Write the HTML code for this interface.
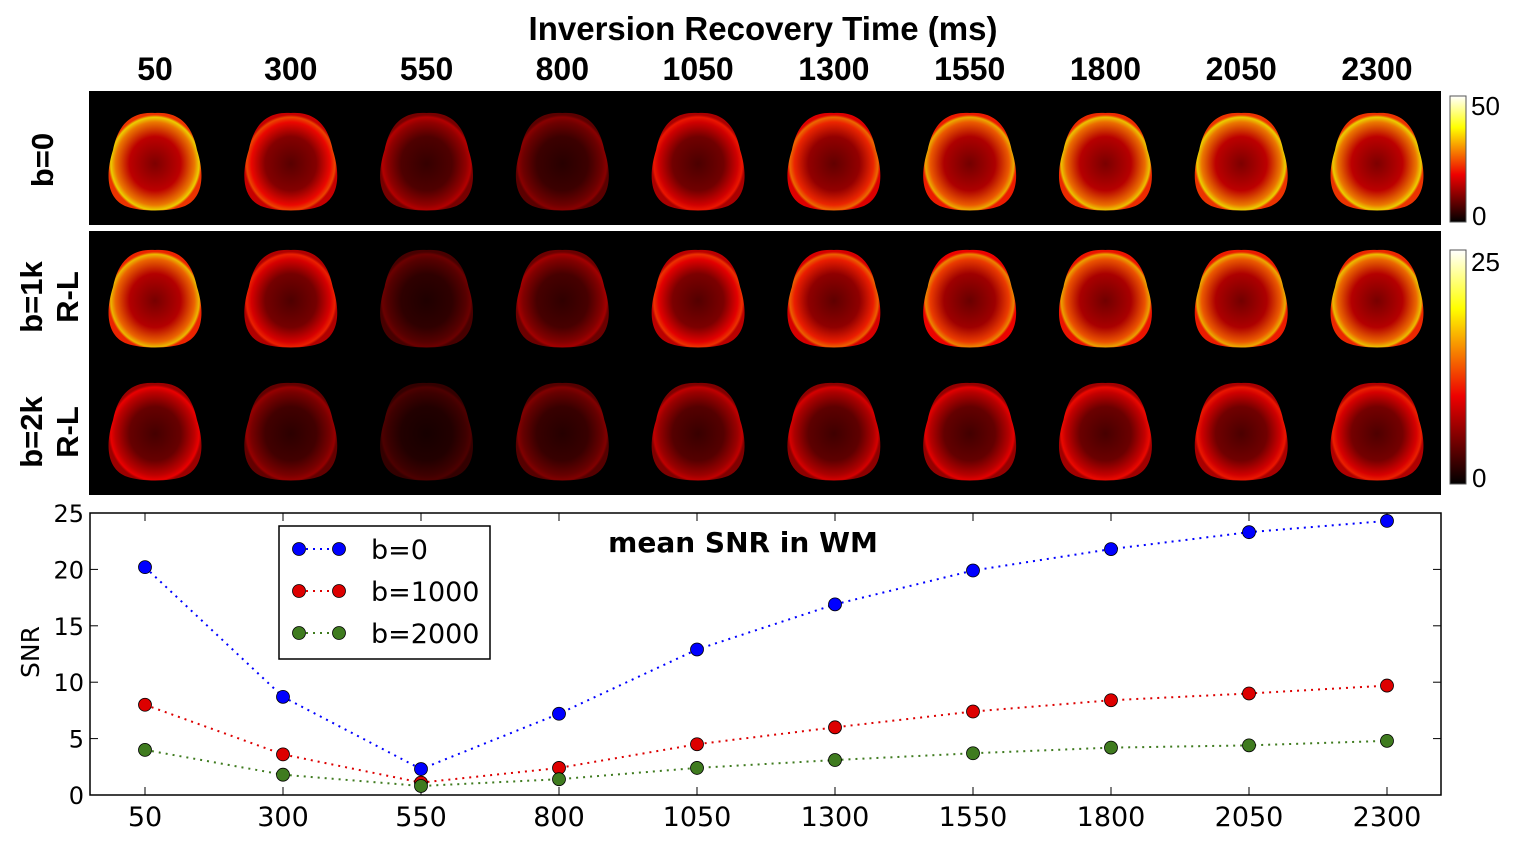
<!DOCTYPE html>
<html><head><meta charset="utf-8"><style>
html,body{margin:0;padding:0;background:#fff;}
svg{display:block;}
</style></head><body>
<svg id="fig" width="1516" height="841" viewBox="0 0 1516 841" xmlns="http://www.w3.org/2000/svg">
<defs>
<linearGradient id="hotbar" x1="0" y1="1" x2="0" y2="0">
<stop offset="0" stop-color="#000"/><stop offset="0.375" stop-color="#e00"/><stop offset="0.75" stop-color="#ff0"/><stop offset="1" stop-color="#fff"/>
</linearGradient>
</defs>
<text x="763" y="40" text-anchor="middle" font-family="Liberation Sans, sans-serif" font-weight="bold" font-size="33">Inversion Recovery Time (ms)</text>
<g id="colLabels"></g>
<rect x="89" y="91" width="1352" height="134" fill="#000"/>
<rect x="89" y="231" width="1352" height="264" fill="#000"/>
<g id="brains"></g>
<text transform="translate(53,160) rotate(-90)" text-anchor="middle" font-family="Liberation Sans, sans-serif" font-weight="bold" font-size="31">b=0</text>
<text transform="translate(42,297) rotate(-90)" text-anchor="middle" font-family="Liberation Sans, sans-serif" font-weight="bold" font-size="31"><tspan x="0" dy="0">b=1k</tspan><tspan x="0" dy="36">R-L</tspan></text>
<text transform="translate(42,432) rotate(-90)" text-anchor="middle" font-family="Liberation Sans, sans-serif" font-weight="bold" font-size="31"><tspan x="0" dy="0">b=2k</tspan><tspan x="0" dy="36">R-L</tspan></text>
<rect x="1450" y="96" width="16" height="126" fill="url(#hotbar)" stroke="#555" stroke-width="1"/>
<text x="1471" y="115" font-family="Liberation Sans, sans-serif" font-size="26">50</text>
<text x="1472" y="225" font-family="Liberation Sans, sans-serif" font-size="26">0</text>
<rect x="1450" y="250" width="16" height="234" fill="url(#hotbar)" stroke="#555" stroke-width="1"/>
<text x="1471" y="271" font-family="Liberation Sans, sans-serif" font-size="26">25</text>
<text x="1472" y="487" font-family="Liberation Sans, sans-serif" font-size="26">0</text>
<g id="plot"></g>
</svg>
<script>
const categories = [50,300,550,800,1050,1300,1550,1800,2050,2300];
const snrB0 = [20.2,8.7,2.3,7.2,12.9,16.9,19.9,21.8,23.3,24.3];
const snrB1000 = [8.0,3.6,1.1,2.4,4.5,6.0,7.4,8.4,9.0,9.7];
const snrB2000 = [4.0,1.8,0.8,1.4,2.4,3.1,3.7,4.2,4.4,4.8];
const yTicks = [0,5,10,15,20,25];
const imgIntensityB0 = [1.0,0.7,0.42,0.32,0.6,0.78,0.92,0.97,1.0,1.0];
const imgIntensityB1k = [0.95,0.62,0.25,0.38,0.66,0.76,0.84,0.9,0.92,0.96];
const imgIntensityB2k = [0.55,0.35,0.18,0.3,0.45,0.5,0.53,0.57,0.6,0.62];

const NS='http://www.w3.org/2000/svg';
function mk(tag,attrs,parent){const e=document.createElementNS(NS,tag);for(const k in attrs)e.setAttribute(k,attrs[k]);parent.appendChild(e);return e;}
const xL=90,xR=1441,yT=513,yB=795;
const xScale=i=>145+i*(1387-145)/(categories.length-1);
const yScale=v=>yB-(v/25)*(yB-yT);
const imgX=i=>155+i*(1377-155)/(categories.length-1);
function hot(v){v=Math.max(0,Math.min(1,v));const r=Math.min(1,v/0.375),g=Math.max(0,Math.min(1,(v-0.375)/0.375)),b=Math.max(0,Math.min(1,(v-0.75)/0.25));return `rgb(${Math.round(r*235)},${Math.round(g*255)},${Math.round(b*255)})`;}

const cl=document.getElementById('colLabels');
categories.forEach((c,i)=>{const t=mk('text',{x:imgX(i),y:80,'text-anchor':'middle','font-family':'Liberation Sans, sans-serif','font-weight':'bold','font-size':'32'},cl);


t.textContent=c;});

const defs=document.querySelector('defs');
const bg=document.getElementById('brains');
const rows=[[imgIntensityB0,160,'b0'],[imgIntensityB1k,297,'b1k'],[imgIntensityB2k,430,'b2k']];
rows.forEach(([arr,cy,nm])=>{arr.forEach((I,i)=>{
 const id='g'+nm+i;
 const g=mk('radialGradient',{id:id,cx:'0.5',cy:'0.52',r:'0.5'},defs);
 mk('stop',{offset:'0','stop-color':hot(0.2*I)},g);
 mk('stop',{offset:'0.55','stop-color':hot(0.3*I)},g);
 mk('stop',{offset:'0.85','stop-color':hot(0.55*I)},g);
 mk('stop',{offset:'0.95','stop-color':hot(0.68*I)},g);
 mk('stop',{offset:'1','stop-color':hot(0.45*I)},g);
 const cx=imgX(i);
 const d=`M ${cx} ${cy-47} C ${cx+28} ${cy-49} ${cx+38} ${cy-30} ${cx+42} ${cy-10} C ${cx+50} ${cy+15} ${cx+48} ${cy+38} ${cx+30} ${cy+46} C ${cx+15} ${cy+52} ${cx-15} ${cy+52} ${cx-30} ${cy+46} C ${cx-48} ${cy+38} ${cx-50} ${cy+15} ${cx-42} ${cy-10} C ${cx-38} ${cy-30} ${cx-28} ${cy-49} ${cx} ${cy-47} Z`;
 const p=mk('path',{d:d,fill:`url(#${id})`},bg);
 
 
});});

const pl=document.getElementById('plot');
const frame=mk('rect',{x:xL,y:yT,width:xR-xL,height:yB-yT,fill:'#fff',stroke:'#000','stroke-width':1.5},pl);


yTicks.forEach(v=>{const y=yScale(v);
 mk('line',{x1:xL,x2:xL+8,y1:y,y2:y,stroke:'#000'},pl);mk('line',{x1:xR,x2:xR-8,y1:y,y2:y,stroke:'#000'},pl);
 const t=mk('text',{x:xL-6,y:y+9,'text-anchor':'end','font-family':'DejaVu Sans, sans-serif','font-size':'24'},pl);
 
 
 t.textContent=v;});
categories.forEach((c,i)=>{const x=xScale(i);
 mk('line',{x1:x,x2:x,y1:yB,y2:yB-8,stroke:'#000'},pl);mk('line',{x1:x,x2:x,y1:yT,y2:yT+8,stroke:'#000'},pl);
 const t=mk('text',{x:x,y:yB+31,'text-anchor':'middle','font-family':'DejaVu Sans, sans-serif','font-size':'27'},pl);
 
 
 t.textContent=c;});
const yt=mk('text',{transform:'translate(39,652) rotate(-90)','text-anchor':'middle','font-family':'DejaVu Sans, sans-serif','font-size':'25'},pl);


yt.textContent='SNR';
const pt=mk('text',{x:743,y:552,'text-anchor':'middle','font-family':'DejaVu Sans, sans-serif','font-weight':'bold','font-size':'28'},pl);


pt.textContent='mean SNR in WM';
const series=[[snrB0,'#0000ff','b=0'],[snrB1000,'#dd0000','b=1000'],[snrB2000,'#3f7b1f','b=2000']];
series.forEach(([vals,col,nm])=>{
 const l=mk('polyline',{points:vals.map((v,i)=>xScale(i)+','+yScale(v)).join(' '),fill:'none',stroke:col,'stroke-width':2,'stroke-dasharray':'2 5'},pl);
 
 
});
series.forEach(([vals,col,nm])=>{vals.forEach((v,i)=>{
 const c=mk('circle',{cx:xScale(i),cy:yScale(v),r:6.5,fill:col,stroke:'#000','stroke-width':0.8},pl);
 
 
});});
const lg=mk('g',{},pl);


mk('rect',{x:279,y:526,width:211,height:133,fill:'#fff',stroke:'#000','stroke-width':1.5},lg);
series.forEach(([vals,col,nm],k)=>{const y=549+k*42;
 mk('line',{x1:299,x2:339,y1:y,y2:y,stroke:col,'stroke-width':2,'stroke-dasharray':'2 5'},lg);
 mk('circle',{cx:299,cy:y,r:6.5,fill:col,stroke:'#000','stroke-width':0.8},lg);
 mk('circle',{cx:339,cy:y,r:6.5,fill:col,stroke:'#000','stroke-width':0.8},lg);
 const t=mk('text',{x:371,y:y+10,'font-family':'DejaVu Sans, sans-serif','font-size':'27'},lg);
 
 
 t.textContent=nm;});
</script>
</body></html>
